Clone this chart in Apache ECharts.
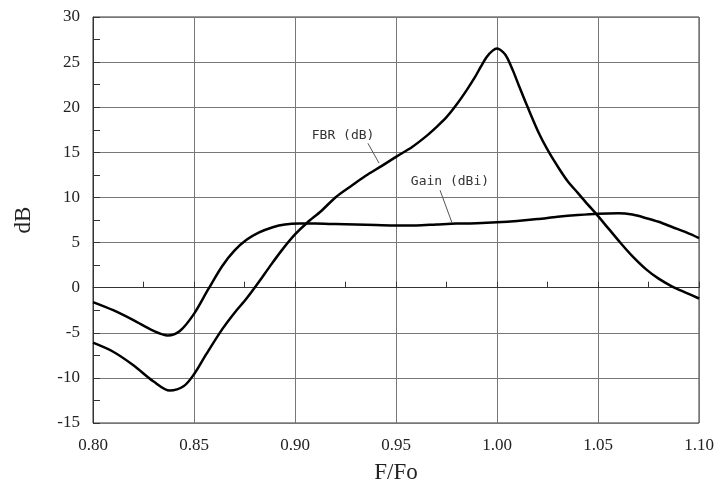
<!DOCTYPE html>
<html>
<head>
<meta charset="utf-8">
<script src="https://cdn.jsdelivr.net/npm/echarts@6/dist/echarts.min.js"></script>
<style>
    html, body { margin: 0; padding: 0; background: #fff; }
    #chart { width: 722px; height: 497px; }
</style>
</head>
<body>
<div id="chart"></div>
<script>
// frequency ratio F/Fo and values
var gainX = [0.800, 0.810, 0.820, 0.830, 0.837, 0.843, 0.850, 0.857, 0.864, 0.870, 0.876, 0.882, 0.889, 0.895, 0.902, 0.910, 0.920, 0.930, 0.940, 0.950, 0.960, 0.970, 0.980, 0.990, 1.000, 1.010, 1.020, 1.030, 1.040, 1.050, 1.060, 1.067, 1.074, 1.080, 1.087, 1.094, 1.100]
var gainY = [-1.6, -2.5, -3.6, -4.8, -5.3, -4.8, -2.9, -0.2, 2.4, 4.1, 5.3, 6.1, 6.7, 7.0, 7.1, 7.1, 7.05, 7.0, 6.95, 6.9, 6.9, 7.0, 7.1, 7.15, 7.25, 7.4, 7.6, 7.85, 8.05, 8.2, 8.25, 8.1, 7.7, 7.3, 6.7, 6.1, 5.5]

var fbrX = [0.800, 0.810, 0.820, 0.830, 0.838, 0.845, 0.850, 0.856, 0.864, 0.870, 0.876, 0.882, 0.888, 0.894, 0.900, 0.906, 0.913, 0.920, 0.928, 0.935, 0.943, 0.950, 0.958, 0.965, 0.970, 0.975, 0.980, 0.985, 0.989, 0.992, 0.995, 0.998, 1.000, 1.003, 1.005, 1.008, 1.011, 1.015, 1.021, 1.026, 1.031, 1.035, 1.040, 1.045, 1.049, 1.055, 1.061, 1.067, 1.074, 1.080, 1.087, 1.094, 1.100]
var fbrY = [-6.1, -7.1, -8.6, -10.4, -11.4, -10.9, -9.6, -7.4, -4.6, -2.8, -1.2, 0.6, 2.5, 4.3, 5.9, 7.2, 8.5, 10.0, 11.3, 12.4, 13.5, 14.5, 15.6, 16.8, 17.8, 18.9, 20.3, 21.9, 23.3, 24.5, 25.6, 26.3, 26.5, 26.1, 25.5, 24.0, 22.3, 20.1, 17.0, 14.9, 13.1, 11.8, 10.5, 9.2, 8.2, 6.6, 5.0, 3.5, 2.0, 1.0, 0.1, -0.6, -1.2]

// annotation text and leader lines (data coordinates)
var fbrLabel = { text: 'FBR (dB)', at: [0.9238, 16.9], leader: [[0.9361, 16.0], [0.9416, 13.8]] }
var gainLabel = { text: 'Gain (dBi)', at: [0.9767, 11.8], leader: [[0.9718, 10.8], [0.9777, 7.2]] }

function pairs(xs, ys) {
    return xs.map(function(x, i) { return [x, ys[i]] })
}

function annotation(a) {
    return {
        markLine: {
            silent: true,
            symbol: 'none',
            label: { show: false },
            lineStyle: { color: '#555', width: 1, type: 'solid' },
            data: [[{ coord: a.leader[0] }, { coord: a.leader[1] }]]
        },
        markPoint: {
            silent: true,
            symbol: 'circle',
            symbolSize: 0,
            label: {
                show: true,
                position: 'inside',
                formatter: a.text,
                color: '#333',
                fontSize: 13,
                fontFamily: 'DejaVu Sans Mono'
            },
            data: [{ coord: a.at }]
        }
    }
}

var serifFont = 'Liberation Serif'

var option = {
    animation: false,
    grid: {
        left: 93,
        right: 23,
        top: 17,
        bottom: 74,
        show: true,
        borderColor: '#333',
        borderWidth: 1
    },
    xAxis: {
        type: 'value',
        min: 0.8,
        max: 1.1,
        interval: 0.05,
        name: 'F/Fo',
        nameLocation: 'middle',
        nameGap: 38,
        nameTextStyle: { fontFamily: serifFont, fontSize: 23, color: '#222' },
        axisLine: { show: true, lineStyle: { color: '#333', width: 1 } },
        axisTick: { show: true, inside: true, length: 6, lineStyle: { color: '#333' } },
        minorTick: { show: true, splitNumber: 2, length: 6, lineStyle: { color: '#333' } },
        axisLabel: {
            fontFamily: serifFont,
            fontSize: 17,
            color: '#222',
            margin: 14,
            formatter: function(v) { return v.toFixed(2) }
        },
        splitLine: { show: true, lineStyle: { color: '#777', width: 1 } }
    },
    yAxis: {
        type: 'value',
        min: -15,
        max: 30,
        interval: 5,
        name: 'dB',
        nameLocation: 'middle',
        nameGap: 58,
        nameTextStyle: { fontFamily: serifFont, fontSize: 23, color: '#222' },
        axisLine: { show: true, lineStyle: { color: '#333', width: 1 } },
        axisTick: { show: true, inside: true, length: 7, lineStyle: { color: '#333' } },
        minorTick: { show: true, splitNumber: 2, length: 7, lineStyle: { color: '#333' } },
        axisLabel: { fontFamily: serifFont, fontSize: 17, color: '#222', margin: 13 },
        splitLine: { show: true, lineStyle: { color: '#777', width: 1 } }
    },
    series: [
        Object.assign({
            name: 'Gain (dBi)',
            type: 'line',
            data: pairs(gainX, gainY),
            smooth: 0.3,
            showSymbol: false,
            lineStyle: { color: '#000', width: 2.5 },
            z: 3
        }, annotation(gainLabel)),
        Object.assign({
            name: 'FBR (dB)',
            type: 'line',
            data: pairs(fbrX, fbrY),
            smooth: 0.3,
            showSymbol: false,
            lineStyle: { color: '#000', width: 2.5 },
            z: 3
        }, annotation(fbrLabel))
    ]
}

var myChart = echarts.init(document.getElementById('chart'))
myChart.setOption(option)
</script>
</body>
</html>
